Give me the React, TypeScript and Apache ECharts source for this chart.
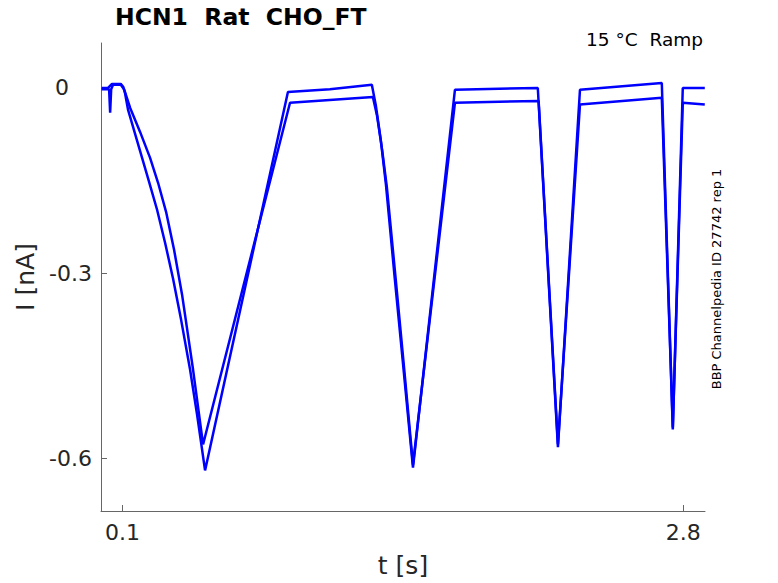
import React, { useEffect, useRef } from "react";
import * as echarts from "echarts";

// Trace 1 (upper plateau level)
const timeA = [0, 0.031, 0.05, 0.092, 0.104, 0.113, 0.1274, 0.1611, 0.1948, 0.2285, 0.267, 0.3055, 0.344, 0.3825, 0.4258, 0.4595, 0.498, 0.897, 1.099, 1.301, 1.32, 1.344, 1.369, 1.412, 1.456, 1.499, 1.701, 2.1, 2.197, 2.303, 2.697, 2.75, 2.798, 2.904];
const currentA = [0, 0, 0.0065, 0.0065, 0.002, -0.009, -0.0356, -0.0744, -0.1132, -0.152, -0.1973, -0.2507, -0.3089, -0.3752, -0.4561, -0.5289, -0.6195, -0.0065, -0.002, 0.005, -0.028, -0.084, -0.157, -0.311, -0.464, -0.615, -0.003, 0.0, -0.582, -0.003, 0.008, -0.553, 0.0, 0.0];

// Trace 2 (lower plateau level)
const timeB = [0, 0.036, 0.041, 0.046, 0.055, 0.092, 0.108, 0.137, 0.1852, 0.2333, 0.2718, 0.3103, 0.3488, 0.3873, 0.4402, 0.4884, 0.907, 1.306, 1.326, 1.35, 1.373, 1.416, 1.458, 1.499, 1.701, 2.104, 2.197, 2.303, 2.697, 2.75, 2.798, 2.904];
const currentB = [-0.002, -0.002, -0.04, -0.002, 0.005, 0.005, -0.002, -0.032, -0.0712, -0.1132, -0.1536, -0.2006, -0.262, -0.3348, -0.4561, -0.5774, -0.024, -0.0146, -0.045, -0.099, -0.16, -0.31, -0.46, -0.61, -0.024, -0.021, -0.577, -0.027, -0.016, -0.55, -0.024, -0.027];

const xTicks = [0.1, 2.8];
const yTicks = [-0.6, -0.3, 0];

const titleText = "HCN1  Rat  CHO_FT";
const subText = "15 °C  Ramp";
const sideText = "BBP Channelpedia ID 27742 rep 1";

const FONT = "DejaVu Sans";

export default function App() {
  const ref = useRef<HTMLDivElement>(null);
  useEffect(() => {
    if (!ref.current) return;
    const chart = echarts.init(ref.current, null, { renderer: "svg" });
    const mk = (ts: number[], vs: number[]) => ts.map((t, i) => [t, vs[i]]);
    chart.setOption({
      animation: false,
      backgroundColor: "#ffffff",
      grid: { left: 101, top: 43, right: 73, bottom: 71, containLabel: false },
      xAxis: {
        type: "value",
        min: -0.003,
        max: 2.905,
        name: "t [s]",
        nameLocation: "middle",
        nameGap: 42,
        nameTextStyle: { fontFamily: FONT, fontSize: 25, color: "#262626" },
        axisLine: { show: true, onZero: false, lineStyle: { color: "#666666", width: 1 } },
        axisTick: { show: true, inside: true, length: 6, customValues: xTicks, lineStyle: { color: "#666666" } },
        axisLabel: { customValues: xTicks, fontFamily: FONT, fontSize: 22, color: "#262626", margin: 10 },
        splitLine: { show: false },
      },
      yAxis: {
        type: "value",
        min: -0.6852,
        max: 0.0728,
        name: "I [nA]",
        nameLocation: "middle",
        nameGap: 58,
        nameTextStyle: { fontFamily: FONT, fontSize: 25, color: "#262626" },
        axisLine: { show: true, onZero: false, lineStyle: { color: "#666666", width: 1 } },
        axisTick: { show: true, inside: true, length: 6, customValues: yTicks, lineStyle: { color: "#666666" } },
        axisLabel: {
          customValues: yTicks,
          fontFamily: FONT,
          fontSize: 22,
          color: "#262626",
          margin: 9,
          formatter: (v: number) => (Math.abs(v) < 1e-9 ? "{z|0}" : v.toFixed(1)),
          rich: { z: { fontFamily: FONT, fontSize: 22, color: "#262626", padding: [0, 23, 0, 0] } },
        },
        splitLine: { show: false },
      },
      series: [
        {
          type: "line",
          data: mk(timeA, currentA),
          showSymbol: false,
          lineStyle: { color: "#0000ff", width: 2.5 },
        },
        {
          type: "line",
          data: mk(timeB, currentB),
          showSymbol: false,
          lineStyle: { color: "#0000ff", width: 2.5 },
        },
      ],
      graphic: [
        {
          type: "text",
          left: 115,
          top: 5,
          style: { text: titleText, fontFamily: FONT, fontSize: 23.5, fontWeight: "bold", fill: "#000000" },
        },
        {
          type: "text",
          right: 75,
          top: 30,
          style: { text: subText, fontFamily: FONT, fontSize: 18.5, fill: "#000000" },
        },
        {
          type: "text",
          x: 716.5,
          y: 279,
          rotation: Math.PI / 2,
          style: { text: sideText, fontFamily: FONT, fontSize: 13, fill: "#000000", align: "center", verticalAlign: "middle" },
        },
      ],
    });
    return () => chart.dispose();
  }, []);
  return <div ref={ref} style={{ position: "fixed", left: 0, top: 0, width: 778, height: 583 }} />;
}
